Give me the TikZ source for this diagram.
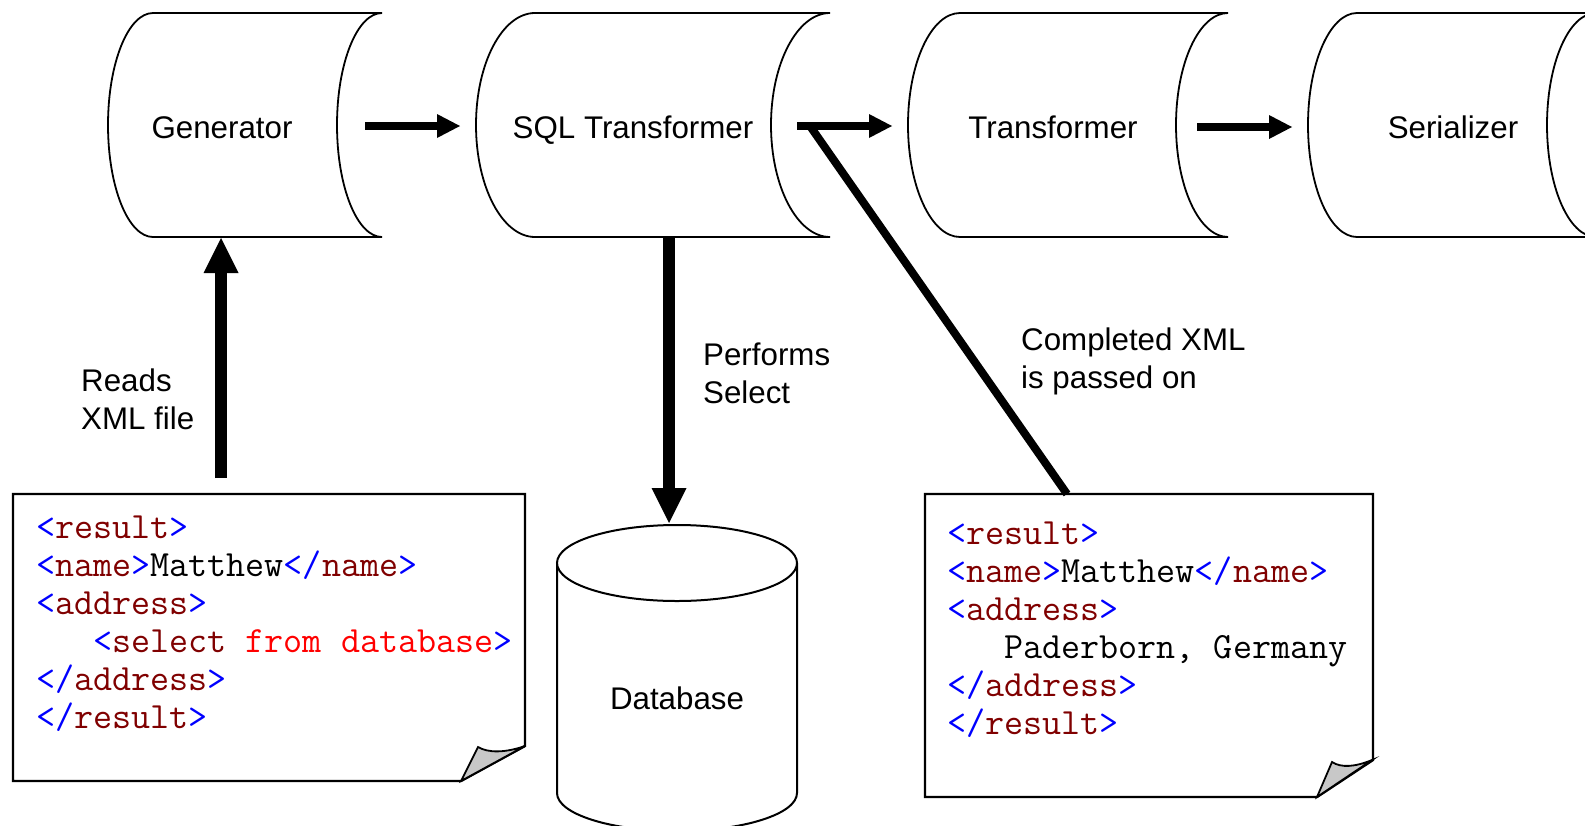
\documentclass[tikz,border=0pt]{standalone}
\usepackage{fontspec}
\setmainfont{Liberation Sans}
\usetikzlibrary{arrows.meta}

\definecolor{tagblue}{RGB}{0,0,255}
\definecolor{tagname}{RGB}{128,0,0}
\definecolor{sqlred}{RGB}{255,0,0}
\definecolor{foldgray}{RGB}{200,200,200}

% XML syntax colouring
\newcommand{\xbl}[1]{\textcolor{tagblue}{#1}}
\newcommand{\xtn}[1]{\textcolor{tagname}{#1}}
\newcommand{\xind}{\phantom{MMM}}

% pipeline stage: convex left side, concave right side
\newcommand{\stagepath}[3]{%
  \draw[stage] (#1,13) -- (#2,13)
    arc[start angle=270,end angle=90,x radius=#3,y radius=112]
    -- (#1,237)
    arc[start angle=90,end angle=270,x radius=#3,y radius=112] -- cycle;}

\tikzset{
  stage/.style={draw=black,line width=1.8pt,fill=white},
  stagelabel/.style={anchor=base,inner sep=0pt,font=\fontsize{31.3}{38}\selectfont},
  % multi-line nodes: the base anchor sits on the last line
  lbl/.style={anchor=base west,inner sep=0pt,align=left,font=\fontsize{31.3}{37.6}\selectfont},
  codeblock/.style={anchor=base west,inner sep=0pt,align=left,font=\ttfamily\fontsize{37}{38.1}\selectfont},
  docbox/.style={draw=black,line width=2.4pt,fill=white,line join=miter},
  fold/.style={draw=black,line width=1.8pt,fill=foldgray},
  harrow/.style={line width=8pt,-{Triangle[length=23pt,width=24pt,line width=0pt]}},
  varrow/.style={line width=12pt,-{Triangle[length=35pt,width=35pt,line width=0pt]}},
  feed/.style={line width=8pt}
}

\begin{document}
\begin{tikzpicture}[x=1pt,y=-1pt]
\useasboundingbox (0,0) rectangle (1585,825);
\clip (0,0) rectangle (1585,825);

% pipeline stages
\stagepath{153}{382}{45}
\node[stagelabel] (gen) at (222,138) {Generator};
\stagepath{535}{830}{59}
\node[stagelabel] (sqlt) at (633,138) {SQL Transformer};
\stagepath{960}{1228}{52}
\node[stagelabel] (trans) at (1053,138) {Transformer};
\stagepath{1357}{1596}{49}
\node[stagelabel] (ser) at (1453,138) {Serializer};

% database
\draw[line width=2pt,fill=white] (557,563) -- (557,793)
  arc[start angle=180,end angle=0,x radius=120,y radius=38] -- (797,563);
\draw[line width=2pt,fill=white] (677,563) ellipse[x radius=120,y radius=38];
\node[stagelabel] (db) at (677,709) {Database};

% source document
\draw[docbox] (13,494) -- (525,494) -- (525,746) -- (461,781) -- (13,781) -- cycle;
\draw[fold] (525,746) .. controls (505,753) and (488,753) .. (478,747) -- (461,781) -- cycle;
\node[codeblock] (srccode) at (36,728.5) {%
\xbl{<}\xtn{result}\xbl{>}\\
\xbl{<}\xtn{name}\xbl{>}Matthew\xbl{</}\xtn{name}\xbl{>}\\
\xbl{<}\xtn{address}\xbl{>}\\
\xind\xbl{<}\xtn{select} \textcolor{sqlred}{from database}\xbl{>}\\
\xbl{</}\xtn{address}\xbl{>}\\
\xbl{</}\xtn{result}\xbl{>}};

% output document
\draw[docbox] (925,494) -- (1373,494) -- (1373,760) -- (1317,797) -- (925,797) -- cycle;
\draw[fold] (1372,760) .. controls (1355,767) and (1341,768) .. (1332,762) -- (1317,797) -- cycle;
\node[codeblock] (outcode) at (947,734.5) {%
\xbl{<}\xtn{result}\xbl{>}\\
\xbl{<}\xtn{name}\xbl{>}Matthew\xbl{</}\xtn{name}\xbl{>}\\
\xbl{<}\xtn{address}\xbl{>}\\
\xind Paderborn, Germany\\
\xbl{</}\xtn{address}\xbl{>}\\
\xbl{</}\xtn{result}\xbl{>}};

% connector end points
\coordinate (genout) at (365,126);
\coordinate (sqlin) at (460,126);
\coordinate (sqlout) at (797,126);
\coordinate (transin) at (892,126);
\coordinate (transout) at (1197,127);
\coordinate (serin) at (1292,127);
\coordinate (srctop) at (221,478);
\coordinate (genbottom) at (221,238);
\coordinate (sqlbottom) at (669,238);
\coordinate (dbtop) at (669,523);
\coordinate (feedstart) at (810,126);
\coordinate (outtop) at (1067,494);

% flow
\draw[harrow] (genout) -- (sqlin);
\draw[harrow] (sqlout) -- (transin);
\draw[harrow] (transout) -- (serin);
\draw[varrow] (srctop) -- (genbottom);
\draw[varrow] (sqlbottom) -- (dbtop);
\draw[feed] (feedstart) -- (outtop);

% labels
\node[lbl] (readslbl) at (81,429) {Reads\\XML file};
\node[lbl] (selectlbl) at (703,403) {Performs\\Select};
\node[lbl] (passlbl) at (1021,388) {Completed XML\\is passed on};
\end{tikzpicture}
\end{document}
